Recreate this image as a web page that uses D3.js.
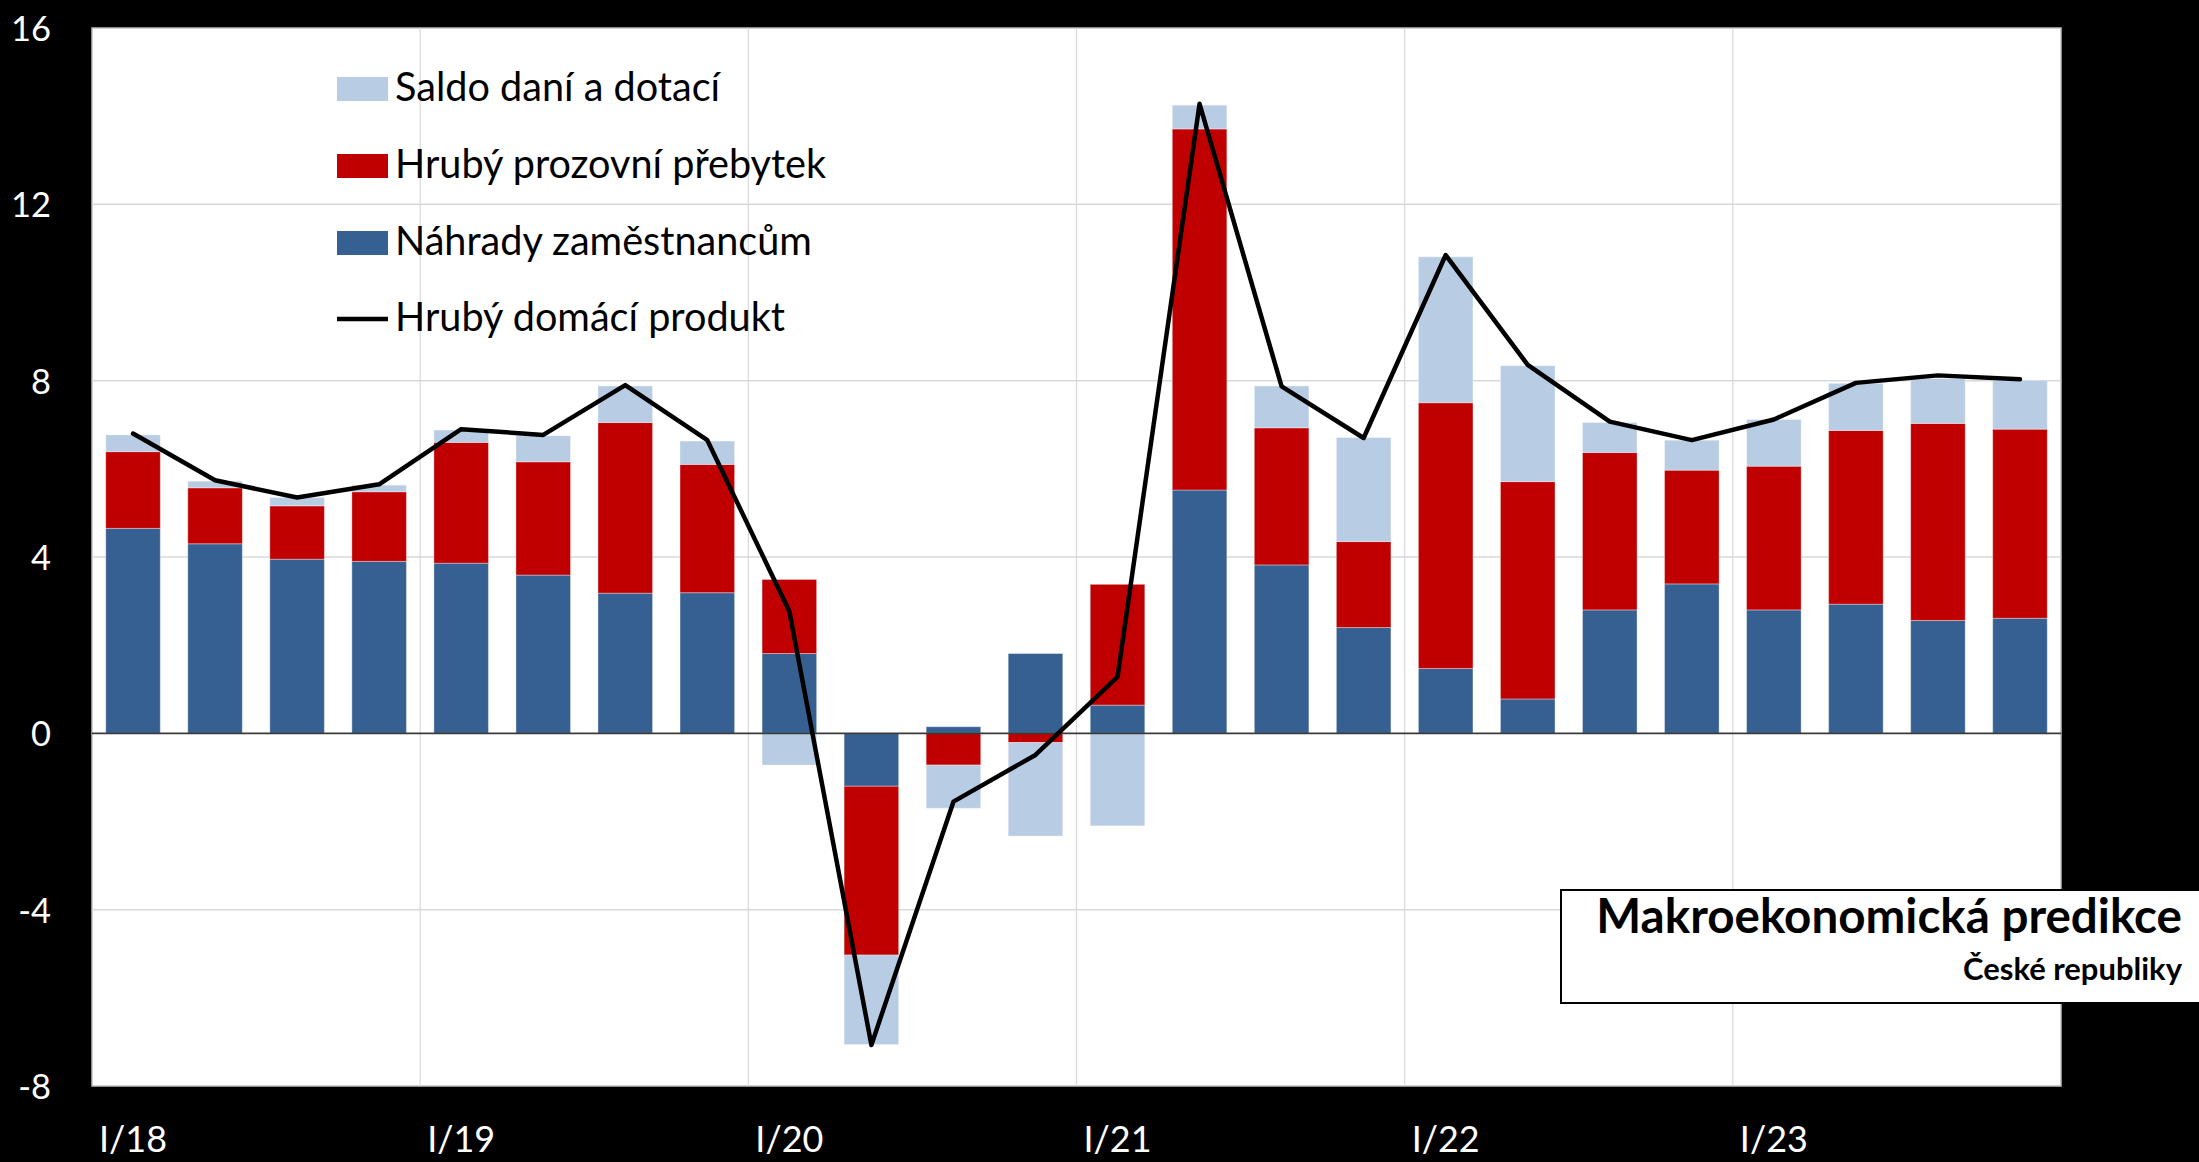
<!DOCTYPE html>
<html><head><meta charset="utf-8">
<script src="https://cdn.jsdelivr.net/npm/d3@7"></script>
<style>
html,body{margin:0;padding:0;background:#000;overflow:hidden}
svg{display:block}
text{font-family:Lato,"Noto Sans",sans-serif}
</style></head><body>
<svg id="chart" width="2199" height="1162"></svg>
<script>
// ---- data ----
const quarters = ["I/18","II/18","III/18","IV/18","I/19","II/19","III/19","IV/19",
  "I/20","II/20","III/20","IV/20","I/21","II/21","III/21","IV/21",
  "I/22","II/22","III/22","IV/22","I/23","II/23","III/23","IV/23"];
const nahrady = [4.65,4.30,3.95,3.90, 3.86,3.59,3.18,3.19, 1.81,-1.20,0.15,1.81,
  0.64,5.52,3.82,2.40, 1.47,0.78,2.80,3.39, 2.80,2.93,2.56,2.61];
const prebytek = [1.74,1.27,1.21,1.58, 2.74,2.57,3.87,2.91, 1.68,-3.83,-0.72,-0.21,
  2.74,8.19,3.11,1.95, 6.03,4.93,3.57,2.58, 3.26,3.94,4.47,4.29];
const saldo = [0.38,0.15,0.19,0.15, 0.28,0.59,0.83,0.53, -0.72,-2.03,-0.98,-2.12,
  -2.10,0.54,0.95,2.36, 3.31,2.63,0.68,0.68, 1.06,1.07,1.02,1.11];
const hdp = [6.80,5.74,5.35,5.65, 6.90,6.77,7.90,6.65, 2.77,-7.07,-1.55,-0.49,
  1.28,14.28,7.87,6.70, 10.85,8.36,7.07,6.65, 7.12,7.95,8.12,8.03];
const xTickLabels = ["I/18","I/19","I/20","I/21","I/22","I/23"];
const yTickValues = [-8,-4,0,4,8,12,16];
const seriesKeys = ["nahrady","prebytek","saldo"];
const seriesLabels = {nahrady:"Náhrady zaměstnancům", prebytek:"Hrubý prozovní přebytek", saldo:"Saldo daní a dotací"};
const lineLabel = "Hrubý domácí produkt";
const titleText = "Makroekonomická predikce";
const subtitleText = "České republiky";

// ---- layout ----
const W = 2199, H = 1162;
const L = 92, R = 2061, T = 28, B = 1086;
const colors = {nahrady:"#376092", prebytek:"#C00000", saldo:"#B8CCE4"};

const svg = d3.select("#chart");
svg.append("rect").attr("width",W).attr("height",H).attr("fill","#000");

const x = d3.scaleBand().domain(quarters).range([L,R]).paddingInner(0.335).paddingOuter(0.1675);
const y = d3.scaleLinear().domain([-8,16]).range([B,T]);
const step = x.step();

svg.append("rect").attr("x",L).attr("y",T).attr("width",R-L).attr("height",B-T)
  .attr("fill","#fff").attr("stroke","#bfbfbf").attr("stroke-width",1.5);

// gridlines
const g = svg.append("g");
g.selectAll(".hg").data(yTickValues.filter(v=>v!==0 && v!==16 && v!==-8)).join("line")
  .attr("x1",L).attr("x2",R).attr("y1",d=>y(d)).attr("y2",d=>y(d))
  .attr("stroke","#d9d9d9").attr("stroke-width",1.5);
g.selectAll(".vg").data(xTickLabels.slice(1)).join("line")
  .attr("x1",d=>x(d)-step*x.paddingOuter()).attr("x2",d=>x(d)-step*x.paddingOuter())
  .attr("y1",T).attr("y2",B).attr("stroke","#d9d9d9").attr("stroke-width",1.2);

// stacked bars
const rows = quarters.map((q,i)=>({q, nahrady:nahrady[i], prebytek:prebytek[i], saldo:saldo[i]}));
const stacked = d3.stack().keys(seriesKeys).offset(d3.stackOffsetDiverging)(rows);
svg.append("g").selectAll("g").data(stacked).join("g")
  .attr("fill",d=>colors[d.key])
  .selectAll("rect").data(d=>d).join("rect")
  .attr("x",d=>x(d.data.q)).attr("width",x.bandwidth())
  .attr("y",d=>y(Math.max(d[0],d[1]))).attr("height",d=>Math.abs(y(d[0])-y(d[1])))
  .attr("stroke","rgba(255,255,255,0.35)").attr("stroke-width",1);

// zero line
svg.append("line").attr("x1",L).attr("x2",R).attr("y1",y(0)).attr("y2",y(0))
  .attr("stroke","#3a3a3a").attr("stroke-width",1.8);

// GDP line
const line = d3.line().x((d,i)=>x(quarters[i])+x.bandwidth()/2).y(d=>y(d));
svg.append("path").datum(hdp).attr("d",line).attr("fill","none")
  .attr("stroke","#000").attr("stroke-width",4.5).attr("stroke-linejoin","round").attr("stroke-linecap","round");

function fit(sel, target){
  const w = sel.node().getComputedTextLength();
  const fs = parseFloat(sel.attr("font-size"));
  sel.attr("font-size", fs*target/w);
  return fs*target/w;
}

// y axis
const yAxis = svg.append("g").attr("transform",`translate(${L},0)`)
  .call(d3.axisLeft(y).tickValues(yTickValues).tickSize(0).tickPadding(0).tickFormat(d=>String(d)));
yAxis.select(".domain").remove();
yAxis.selectAll("text").attr("fill","#fff").attr("x",-41).attr("font-size",36)
  .attr("font-family","Lato,'Noto Sans',sans-serif").attr("dy","0.36em");
{ const t = yAxis.selectAll("text").filter(d=>d===16); const w=t.node().getComputedTextLength();
  yAxis.selectAll("text").attr("font-size",36*40/w); }

// x axis
const xAxis = svg.append("g").attr("transform",`translate(0,${B})`)
  .call(d3.axisBottom(x).tickValues(xTickLabels).tickSize(0).tickPadding(0));
xAxis.select(".domain").remove();
xAxis.selectAll("text").attr("fill","#fff").attr("font-size",37).attr("dy",null).attr("y",66)
  .attr("font-family","Lato,'Noto Sans',sans-serif");
{ const t = xAxis.selectAll("text").filter(d=>d==="I/18"); const w=t.node().getComputedTextLength();
  xAxis.selectAll("text").attr("font-size",37*68/w); }

// legend
const legendItems = [
  {label:seriesLabels.saldo, color:colors.saldo, type:"rect", target:327},
  {label:seriesLabels.prebytek, color:colors.prebytek, type:"rect", target:431},
  {label:seriesLabels.nahrady, color:colors.nahrady, type:"rect", target:416},
  {label:lineLabel, color:"#000", type:"line", target:389}
];
const lg = svg.append("g");
const rowY = [89,166,243,319];
let sizes = [];
legendItems.forEach((it,i)=>{
  const cy = rowY[i];
  if(it.type==="rect"){
    lg.append("rect").attr("x",337).attr("y",cy-12).attr("width",51).attr("height",24).attr("fill",it.color);
  } else {
    lg.append("line").attr("x1",337).attr("x2",388).attr("y1",cy).attr("y2",cy)
      .attr("stroke",it.color).attr("stroke-width",4.5);
  }
  const t = lg.append("text").attr("x",395).attr("y",cy+12).attr("font-size",38).attr("fill","#000").text(it.label);
  sizes.push(38*it.target/t.node().getComputedTextLength());
});
const avg = d3.mean(sizes);
lg.selectAll("text").attr("font-size",avg);

// annotation box
svg.append("rect").attr("x",1561).attr("y",890).attr("width",700).attr("height",113)
  .attr("fill","#fff").attr("stroke","#000").attr("stroke-width",2);
const t1 = svg.append("text").attr("x",2182).attr("y",933).attr("text-anchor","end")
  .attr("font-weight","bold").attr("font-size",44).attr("fill","#000").text(titleText);
fit(t1,586);
const t2 = svg.append("text").attr("x",2182).attr("y",980).attr("text-anchor","end")
  .attr("font-weight","bold").attr("font-size",26).attr("fill","#000").text(subtitleText);
fit(t2,219);
</script>
</body></html>
